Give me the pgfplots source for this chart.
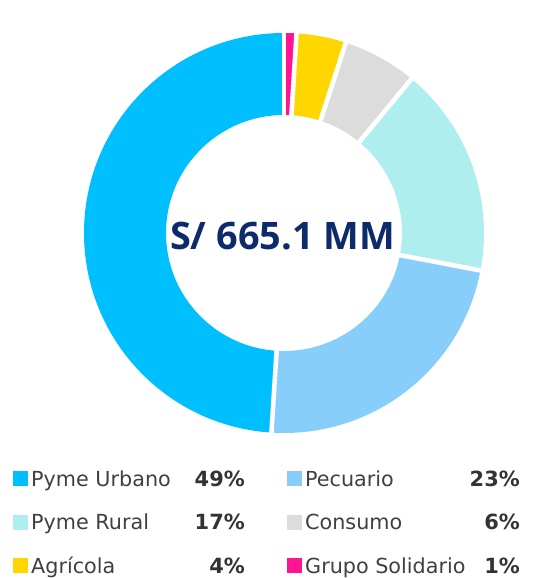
\documentclass[border=0pt]{standalone}
\usepackage{fontspec}
\setmainfont{DejaVu Sans}
\newfontfamily\titlefont{Open Sans}
\usepackage{pgfplots}
\usepackage{pgfplotstable}
\pgfplotsset{compat=1.18}
\definecolor{cUrb}{HTML}{00BFFF}
\definecolor{cPec}{HTML}{87CEFA}
\definecolor{cRur}{HTML}{AFEEEE}
\definecolor{cCon}{HTML}{DCDCDC}
\definecolor{cAgr}{HTML}{FFD700}
\definecolor{cGru}{HTML}{FF1493}
\definecolor{navy}{HTML}{0D2A6B}
\definecolor{labgray}{HTML}{404040}
\definecolor{pctgray}{HTML}{333333}

\pgfplotstableread[col sep=comma]{
label,pct,color
Pyme Urbano,49,cUrb
Pecuario,23,cPec
Pyme Rural,17,cRur
Consumo,6,cCon
Agrícola,4,cAgr
Grupo Solidario,1,cGru
}\datatable

\newcommand\legitem[4]{% #1 square x, #2 baseline y, #3 color, #4 label
  \fill[#3] (#1bp,#2bp) rectangle ++(15bp,15bp);
  \node[anchor=base west, inner sep=0pt, text=labgray, font=\fontsize{20.8}{24}\selectfont] at ({(#1+18)*1bp},#2bp) {#4};
}
\newcommand\legpct[3]{%
  \node[anchor=base east, inner sep=0pt, text=pctgray, font=\fontsize{21}{24}\selectfont\bfseries] at (#1bp,#2bp) {#3};
}

\begin{document}
\begin{tikzpicture}
\path[use as bounding box] (0bp,0bp) rectangle (534bp,578bp);
\begin{axis}[
  at={(284bp,345bp)}, anchor=center,
  scale only axis, width=400bp, height=400bp,
  xmin=-1, xmax=1, ymin=-1, ymax=1,
  hide axis, clip=false,
]
\pgfplotstablegetrowsof{\datatable}
\pgfmathtruncatemacro\nrows{\pgfplotsretval-1}
\def\cum{0}
\pgfplotsforeachungrouped \i in {0,...,\nrows}{
  \pgfplotstablegetelem{\i}{pct}\of\datatable \let\p\pgfplotsretval
  \pgfplotstablegetelem{\i}{color}\of\datatable \let\c\pgfplotsretval
  \pgfmathsetmacro\aA{90+3.6*\cum}
  \pgfmathsetmacro\aB{90+3.6*(\cum+\p)}
  \edef\temp{\noexpand\fill[\c] (axis cs:{cos(\aA)},{sin(\aA)}) arc[start angle=\aA, end angle=\aB, radius=200bp] -- (axis cs:{0.59*cos(\aB)},{0.59*sin(\aB)}) arc[start angle=\aB, end angle=\aA, radius=118bp] -- cycle;}
  \temp
  \pgfmathsetmacro\cum{\cum+\p}
}
\def\cum{0}
\pgfplotsforeachungrouped \i in {0,...,\nrows}{
  \pgfplotstablegetelem{\i}{pct}\of\datatable \let\p\pgfplotsretval
  \pgfmathsetmacro\aA{90+3.6*\cum}
  \edef\temp{\noexpand\draw[white, line width=4.6bp] (axis cs:{0.56*cos(\aA)},{0.56*sin(\aA)}) -- (axis cs:{1.03*cos(\aA)},{1.03*sin(\aA)});}
  \temp
  \pgfmathsetmacro\cum{\cum+\p}
}
\node[anchor=base, inner sep=0pt, text=navy, font=\titlefont\bfseries\fontsize{38}{44}\selectfont] at (axis cs:-0.0075,-0.085) {S/ 665.1 MM};
\end{axis}
\legitem{13}{91.5}{cUrb}{Pyme Urbano}
\legpct{245}{91.5}{49\%}
\legitem{287}{91.5}{cPec}{Pecuario}
\legpct{520}{91.5}{23\%}
\legitem{13}{48}{cRur}{Pyme Rural}
\legpct{245}{48}{17\%}
\legitem{287}{48}{cCon}{Consumo}
\legpct{520}{48}{6\%}
\legitem{13}{5}{cAgr}{Agrícola}
\legpct{245}{5}{4\%}
\legitem{287}{5}{cGru}{Grupo Solidario}
\legpct{520}{5}{1\%}
\end{tikzpicture}
\end{document}
